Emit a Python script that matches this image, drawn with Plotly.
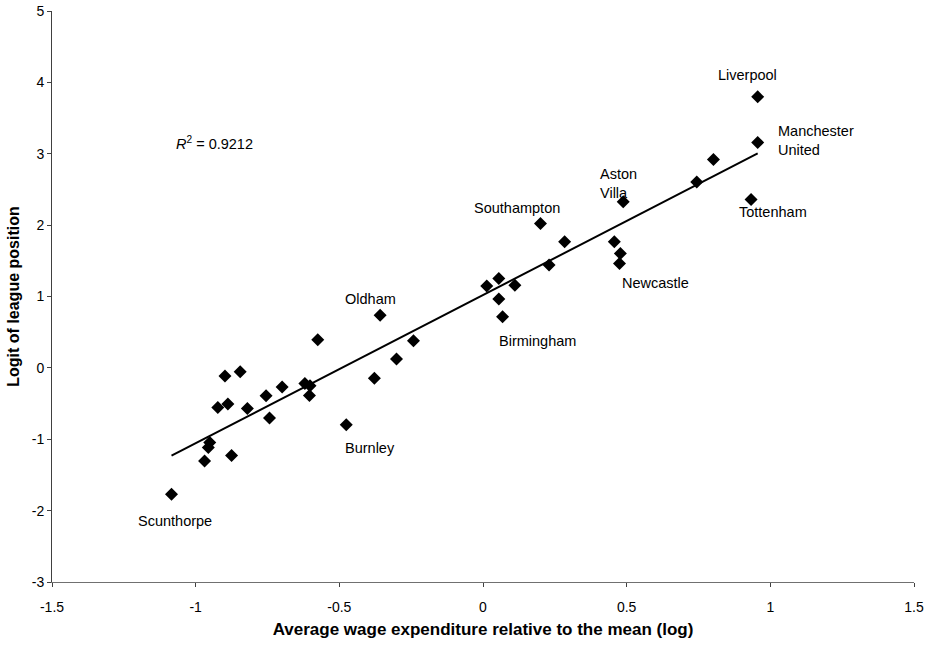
import numpy as np
import plotly.graph_objects as go

wage = [-1.084, -0.969, -0.956, -0.951, -0.875, -0.923, -0.888, -0.898, -0.845, -0.820,
        -0.755, -0.743, -0.699, -0.620, -0.602, -0.604, -0.575, -0.476, -0.378, -0.358,
        -0.301, -0.242, 0.013, 0.055, 0.111, 0.055, 0.068, 0.200, 0.230, 0.284,
        0.457, 0.478, 0.475, 0.488, 0.744, 0.802, 0.956, 0.956, 0.933]
logit = [-1.772, -1.306, -1.114, -1.044, -1.226, -0.554, -0.507, -0.115, -0.054, -0.568,
         -0.391, -0.703, -0.269, -0.218, -0.250, -0.386, 0.394, -0.797, -0.147, 0.739,
         0.124, 0.379, 1.146, 1.253, 1.156, 0.964, 0.715, 2.024, 1.440, 1.766,
         1.766, 1.603, 1.461, 2.326, 2.603, 2.920, 3.797, 3.158, 2.360]

label_text = ["Liverpool", "Manchester<br>United", "Tottenham", "Aston<br>Villa", "Southampton",
              "Newcastle", "Oldham", "Birmingham", "Burnley", "Scunthorpe"]
label_x = [0.922, 1.020, 1.009, 0.400, 0.118, 0.602, -0.390, 0.191, -0.393, -1.072]
label_y = [4.10, 3.19, 2.18, 2.59, 2.24, 1.19, 0.96, 0.375, -1.12, -2.15]
label_anchor = ["center", "left", "center", "left", "center", "center", "center", "center", "center", "center"]

r2_text = "<i>R</i><sup>2</sup> = 0.9212"

x_ticks = [-1.5, -1, -0.5, 0, 0.5, 1, 1.5]
x_ticktext = ["-1.5", "-1", "-0.5", "0", "0.5", "1", "1.5"]
y_ticks = [-3, -2, -1, 0, 1, 2, 3, 4, 5]
y_ticktext = ["-3", "-2", "-1", "0", "1", "2", "3", "4", "5"]

x = np.array(wage)
y = np.array(logit)
slope, intercept = np.polyfit(x, y, 1)
xl = np.array([x.min(), x.max()])
yl = slope * xl + intercept

fam = "Liberation Sans, Arial, sans-serif"
fig = go.Figure()
fig.add_trace(go.Scatter(x=xl, y=yl, mode="lines", line=dict(color="black", width=2),
                         hoverinfo="skip", showlegend=False))
fig.add_trace(go.Scatter(x=wage, y=logit, mode="markers",
                         marker=dict(symbol="diamond", size=10, color="black"),
                         showlegend=False))

font = dict(family=fam, size=14.5, color="black")
for t, lx, ly, a in zip(label_text, label_x, label_y, label_anchor):
    fig.add_annotation(x=lx, y=ly, text=t, showarrow=False, xanchor=a, yanchor="middle",
                       font=font, align="left")
fig.add_annotation(x=-1.076, y=3.15, text=r2_text, showarrow=False, xanchor="left",
                   yanchor="middle", font=font)

fig.update_layout(
    width=931, height=649,
    margin=dict(l=52, r=17, t=11, b=67),
    plot_bgcolor="white", paper_bgcolor="white",
    font=dict(family=fam, size=14, color="black"),
    xaxis=dict(range=[-1.5, 1.5], tickvals=x_ticks, ticktext=x_ticktext, automargin=False,
               showgrid=False, zeroline=False, showline=True, linecolor="#707070", linewidth=1,
               ticks="outside", ticklen=4, tickcolor="#404040", ticklabelstandoff=8,
               ticklabeloverflow="allow",
               tickfont=dict(family=fam, size=14, color="black"),
               title=dict(text="<b>Average wage expenditure relative to the mean (log)</b>",
                          font=dict(family=fam, size=17, color="black"), standoff=9)),
    yaxis=dict(range=[-3, 5], tickvals=y_ticks, ticktext=y_ticktext, automargin=False,
               showgrid=False, zeroline=False, showline=True, linecolor="#404040", linewidth=1,
               ticks="outside", ticklen=4, tickcolor="#404040", ticklabeloverflow="allow",
               tickfont=dict(family=fam, size=14, color="black"),
               title=dict(text="<b>Logit of league position</b>",
                          font=dict(family=fam, size=16, color="black"), standoff=8)),
)

fig.write_html("out.html", config={"displayModeBar": False},
               post_script="document.body.style.margin='0';")
